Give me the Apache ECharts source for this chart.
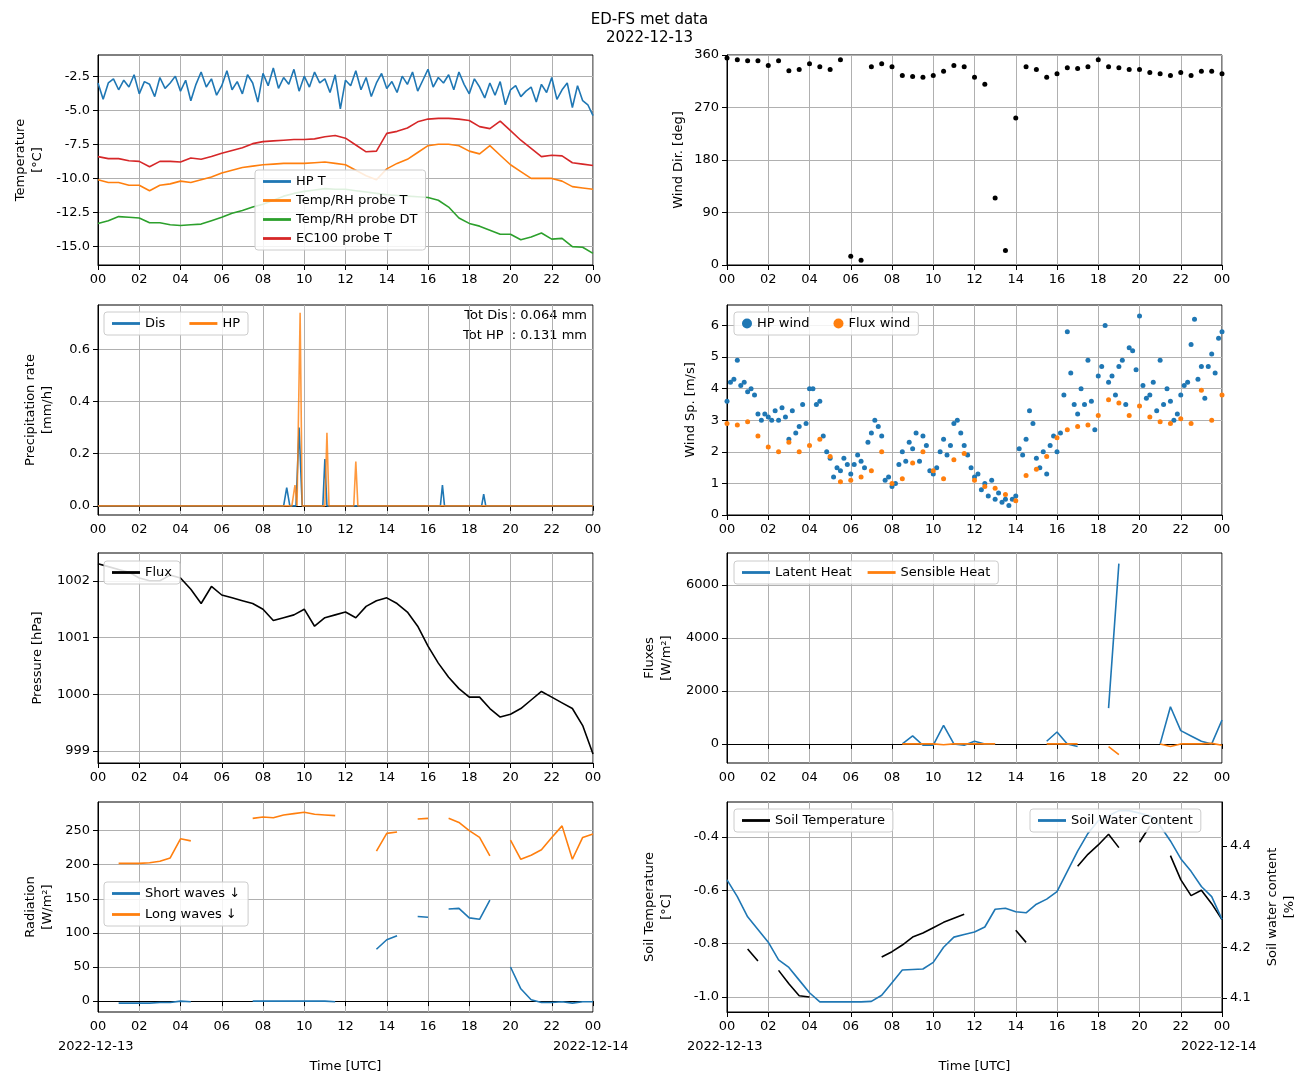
<!DOCTYPE html>
<html>
<head>
<meta charset="utf-8">
<script src="https://cdn.jsdelivr.net/npm/echarts@6/dist/echarts.min.js"></script>
<style>html,body{margin:0;padding:0;background:#fff}#chart{width:1299px;height:1082px}</style>
</head>
<body>
<div id="chart"></div>
<script>
// half-hour time stamps 0..24 h
const halfHours = [0,0.5,1,1.5,2,2.5,3,3.5,4,4.5,5,5.5,6,6.5,7,7.5,8,8.5,9,9.5,10,10.5,11,11.5,12,12.5,13,13.5,14,14.5,15,15.5,16,16.5,17,17.5,18,18.5,19,19.5,20,20.5,21,21.5,22,22.5,23,23.5,24];

// HP temperature every 15 min
const hpT = [-3.0,-4.2,-3.0,-2.7,-3.5,-2.8,-3.3,-2.4,
-3.8,-2.9,-3.1,-4.0,-2.6,-3.4,-3.0,-2.5,
-3.6,-2.8,-4.3,-3.1,-2.2,-3.3,-2.7,-3.9,
-3.2,-2.1,-3.5,-2.9,-3.8,-2.4,-3.0,-4.4,
-2.3,-3.2,-1.9,-3.4,-2.6,-3.1,-2.0,-3.6,
-2.5,-3.3,-2.2,-3.0,-2.7,-3.7,-2.4,-4.9,
-2.8,-3.2,-2.1,-3.5,-2.6,-4.0,-3.0,-2.3,
-3.4,-2.9,-3.7,-2.5,-3.1,-2.2,-3.6,-2.8,
-2.0,-3.3,-2.6,-3.0,-2.4,-3.5,-2.2,-3.1,
-3.8,-2.7,-3.3,-4.1,-3.0,-3.9,-2.9,-4.6,
-3.5,-3.2,-4.0,-3.6,-3.3,-4.4,-3.1,-3.7,
-2.6,-4.2,-3.5,-3.0,-4.8,-3.2,-4.3,-4.6,
-5.4];
const probeT = [-10.1,-10.3,-10.3,-10.5,-10.5,-10.9,-10.5,-10.4,-10.2,-10.3,-10.1,-9.9,-9.6,-9.4,-9.2,-9.1,-9.0,-8.95,-8.9,-8.9,-8.9,-8.85,-8.8,-8.9,-9.0,-9.4,-9.8,-10.1,-9.3,-8.9,-8.6,-8.1,-7.6,-7.5,-7.5,-7.6,-8.0,-8.2,-7.6,-8.3,-9.0,-9.5,-10.0,-10.0,-10.0,-10.2,-10.6,-10.7,-10.8];
const probeDT = [-13.3,-13.1,-12.8,-12.85,-12.9,-13.25,-13.25,-13.4,-13.45,-13.4,-13.35,-13.1,-12.85,-12.55,-12.35,-12.1,-11.9,-11.6,-11.3,-11.1,-10.95,-10.85,-10.75,-10.8,-10.8,-10.9,-11.0,-11.1,-11.2,-11.25,-11.3,-11.35,-11.4,-11.6,-12.1,-12.9,-13.3,-13.5,-13.8,-14.1,-14.1,-14.5,-14.3,-14.0,-14.45,-14.4,-15.0,-15.05,-15.5];
const ec100T = [-8.4,-8.55,-8.55,-8.7,-8.75,-9.15,-8.75,-8.75,-8.8,-8.5,-8.6,-8.4,-8.15,-7.95,-7.75,-7.45,-7.3,-7.25,-7.2,-7.15,-7.15,-7.1,-6.95,-6.85,-7.05,-7.55,-8.05,-8.0,-6.7,-6.55,-6.3,-5.85,-5.65,-5.6,-5.6,-5.65,-5.75,-6.2,-6.35,-5.8,-6.5,-7.2,-7.8,-8.4,-8.3,-8.35,-8.85,-8.95,-9.05];

const windDir = [355,352,350,350,342,350,333,335,345,340,335,352,15,8,340,345,340,325,323,322,325,332,342,340,322,310,115,25,252,340,335,322,328,338,337,340,352,340,338,335,335,330,328,325,330,325,332,332,328];

const disX = [0,9.0,9.15,9.3,9.6,9.75,9.9,10.9,11.0,11.1,16.6,16.7,16.8,18.6,18.7,18.8,24];
const disY = [0,0,0.07,0,0,0.3,0,0,0.18,0,0,0.08,0,0,0.045,0,0];
const hpPX = [0,9.4,9.55,9.65,9.7,9.8,9.9,11.0,11.1,11.2,12.4,12.5,12.6,24];
const hpPY = [0,0,0.08,0,0,0.74,0,0,0.28,0,0,0.17,0,0];

// HP wind every 10 min
const hpWind = [3.6,4.2,4.3,4.9,4.1,4.2,3.9,
4.0,3.8,3.2,3.0,3.2,3.1,
3.0,3.3,3.0,3.4,3.1,2.4,
3.3,2.6,2.8,3.5,2.9,4.0,
4.0,3.5,3.6,2.5,2.0,1.8,
1.2,1.5,1.4,1.8,1.6,1.3,
1.6,1.9,1.7,1.5,2.3,2.6,
3.0,2.8,2.5,1.1,1.2,0.9,
1.0,1.6,2.0,1.7,2.3,2.1,
2.6,1.7,2.5,2.2,1.4,1.3,
1.5,2.0,2.4,1.9,2.2,2.9,
3.0,2.6,2.2,1.9,1.5,1.2,
1.3,0.8,1.0,0.6,1.1,0.5,
0.7,0.4,0.5,0.3,0.5,0.6,
2.1,1.9,2.4,3.3,2.9,1.8,
1.5,2.0,1.3,2.2,2.5,2.0,
2.6,3.8,5.8,4.5,3.5,3.2,
4.0,3.5,4.9,3.6,2.7,4.4,
4.7,6.0,4.2,4.4,3.8,4.7,
4.9,3.5,5.3,5.2,4.6,6.3,
4.1,3.7,3.8,4.2,3.3,4.9,
3.5,4.0,3.6,3.0,3.2,3.8,
4.1,4.2,5.4,6.2,4.3,4.7,
3.7,4.7,5.1,4.5,5.6,5.8];
const fluxWind = [2.9,2.85,2.95,2.5,2.15,2.0,2.3,2.0,2.2,2.4,1.85,1.05,1.1,1.2,1.4,2.0,1.0,1.15,1.65,2.0,1.4,1.15,1.75,1.95,1.1,0.9,0.85,0.65,0.45,1.25,1.45,1.85,2.45,2.7,2.8,2.85,3.15,3.65,3.55,3.15,3.45,3.1,2.95,2.9,3.05,2.9,3.95,3.0,3.8];

const pressure = [1002.3,1002.25,1002.2,1002.15,1002.05,1002.0,1002.0,1002.1,1002.05,1001.85,1001.6,1001.9,1001.75,1001.7,1001.65,1001.6,1001.5,1001.3,1001.35,1001.4,1001.5,1001.2,1001.35,1001.4,1001.45,1001.35,1001.55,1001.65,1001.7,1001.6,1001.45,1001.2,1000.85,1000.55,1000.3,1000.1,999.95,999.95,999.75,999.6,999.65,999.75,999.9,1000.05,999.95,999.85,999.75,999.45,998.95];

const latent = [null,null,null,null,null,null,null,null,null,null,null,null,null,null,null,null,null,0,300,-50,-50,700,0,-50,100,0,0,null,null,null,null,100,450,0,-100,null,null,1350,6800,null,null,null,0,1400,500,300,100,0,900];
const sensible = [null,null,null,null,null,null,null,null,null,null,null,null,null,null,null,null,null,0,0,0,0,-30,0,0,0,0,0,null,null,null,null,0,0,0,0,null,null,-100,-400,null,null,null,0,-100,0,0,0,20,-50];

const shortW = [null,null,-3,-3,-3,-3,-2,-2,0,-1,null,null,null,null,null,0,0,0,0,0,0,0,0,-1,null,null,null,76,90,96,null,124,123,null,135,136,122,120,148,null,50,18,2,-2,-2,-1,-3,-1,-1];
const longW = [null,null,202,202,202,203,205,210,238,235,null,null,null,null,null,268,270,269,273,275,277,274,273,272,null,null,null,220,246,248,null,267,268,null,268,262,250,240,213,null,236,208,214,222,240,257,208,240,245];

const soilT = [null,null,-0.82,-0.865,null,-0.9,-0.95,-0.995,-1.0,null,null,null,null,null,null,-0.85,-0.83,-0.805,-0.775,-0.76,-0.74,-0.72,-0.705,-0.69,null,null,null,null,-0.75,-0.795,null,null,null,null,-0.51,-0.465,-0.43,-0.39,-0.44,null,-0.42,-0.36,null,-0.47,-0.56,-0.62,-0.6,-0.65,-0.71];
const soilW = [4.333,4.30,4.26,4.235,4.21,4.175,4.16,4.135,4.11,4.092,4.092,4.092,4.092,4.092,4.093,4.105,4.13,4.155,4.156,4.157,4.17,4.20,4.22,4.225,4.23,4.24,4.275,4.277,4.27,4.268,4.285,4.295,4.31,4.35,4.39,4.425,4.45,4.46,4.47,4.47,4.465,4.46,4.44,4.41,4.375,4.35,4.32,4.30,4.255];

const pairs = (xs, ys) => ys.map((y, i) => [xs[i], y]);
const tenMin = hpWind.map((v, i) => i / 6);
const quarter = hpT.map((v, i) => i / 4);

const chart = echarts.init(document.getElementById('chart'));
const F = 'DejaVu Sans';
const lefts = [98, 727], tops = [55, 305, 553, 802];
const grids = [];
for (let r = 0; r < 4; r++) for (let c = 0; c < 2; c++)
  grids.push({left: lefts[c], top: tops[r], width: 495, height: 210, show: true, borderColor: '#000', borderWidth: 1, backgroundColor: 'transparent'});

const xAxes = grids.map((g, i) => ({
  type: 'value', gridIndex: i, min: 0, max: 24, interval: 2,
  name: i >= 6 ? 'Time [UTC]' : '', nameLocation: 'middle', nameGap: 48,
  nameTextStyle: {fontFamily: F, fontSize: 13, color: '#000'},
  axisLine: {lineStyle: {color: '#000'}}, axisTick: {lineStyle: {color: '#000'}},
  axisLabel: {fontFamily: F, fontSize: 13, color: '#000', formatter: v => String(v % 24).padStart(2, '0')},
  splitLine: {show: true, lineStyle: {color: '#b0b0b0'}}
}));

function yAx(grid, name, min, max, ticks, fmt, extra) {
  return Object.assign({
    type: 'value', gridIndex: grid, min: min, max: max, name: name, nameLocation: 'middle', nameGap: 50,
    nameTextStyle: {fontFamily: F, fontSize: 13, color: '#000', lineHeight: 17},
    axisLine: {show: true, lineStyle: {color: '#000'}},
    axisTick: {show: true, customValues: ticks, lineStyle: {color: '#000'}},
    axisLabel: {fontFamily: F, fontSize: 13, color: '#000', customValues: ticks, formatter: fmt || (v => String(v))},
    splitLine: {show: true, lineStyle: {color: '#b0b0b0'}}
  }, extra || {});
}
const yAxes = [
  yAx(0, 'Temperature\n[°C]', -16.35, -0.95, [-15, -12.5, -10, -7.5, -5, -2.5], v => v.toFixed(1), {nameGap: 52}),
  yAx(1, 'Wind Dir. [deg]', 0, 360, [0, 90, 180, 270, 360], null, {nameGap: 40}),
  yAx(2, 'Precipitation rate\n[mm/h]', -0.035, 0.77, [0, 0.2, 0.4, 0.6], v => v.toFixed(1), {nameGap: 42}),
  yAx(3, 'Wind Sp. [m/s]', 0, 6.65, [0, 1, 2, 3, 4, 5, 6], null, {nameGap: 28}),
  yAx(4, 'Pressure [hPa]', 998.79, 1002.49, [999, 1000, 1001, 1002], null, {nameGap: 52}),
  yAx(5, 'Fluxes\n[W/m²]', -720, 7200, [0, 2000, 4000, 6000], null, {nameGap: 52}),
  yAx(6, 'Radiation\n[W/m²]', -16, 292, [0, 50, 100, 150, 200, 250], null, {nameGap: 42}),
  yAx(7, 'Soil Temperature\n[°C]', -1.056, -0.269, [-1.0, -0.8, -0.6, -0.4], v => v.toFixed(1), {nameGap: 52}),
  yAx(7, 'Soil water content\n[%]', 4.072, 4.487, [4.1, 4.2, 4.3, 4.4], v => v.toFixed(1), {position: 'right', nameGap: 42, splitLine: {show: false}})
];

const C1 = '#1f77b4', C2 = '#ff7f0e', C3 = '#2ca02c', C4 = '#d62728';
const line = (name, xi, yi, data, color, extra) => Object.assign({
  name: name, type: 'line', xAxisIndex: xi, yAxisIndex: yi, data: data, showSymbol: false,
  symbol: 'none', lineStyle: {color: color, width: 1.6}, itemStyle: {color: color}, connectNulls: false, animation: false
}, extra || {});
const dots = (name, xi, yi, data, color) => ({
  name: name, type: 'scatter', xAxisIndex: xi, yAxisIndex: yi, data: data, symbolSize: 5,
  itemStyle: {color: color, opacity: 1}, animation: false
});

const series = [
  line('HP T', 0, 0, pairs(quarter, hpT), C1),
  line('Temp/RH probe T', 0, 0, pairs(halfHours, probeT), C2),
  line('Temp/RH probe DT', 0, 0, pairs(halfHours, probeDT), C3),
  line('EC100 probe T', 0, 0, pairs(halfHours, ec100T), C4),
  dots('Wind Dir', 1, 1, pairs(halfHours, windDir), '#000'),
  line('Dis', 2, 2, pairs(disX, disY), C1),
  line('HP', 2, 2, pairs(hpPX, hpPY), C2, {lineStyle: {color: C2, width: 1.6, opacity: 0.8}}),
  dots('HP wind', 3, 3, pairs(tenMin, hpWind), C1),
  dots('Flux wind', 3, 3, pairs(halfHours, fluxWind), C2),
  line('Flux', 4, 4, pairs(halfHours, pressure), '#000'),
  line('Latent Heat', 5, 5, pairs(halfHours, latent), C1),
  line('Sensible Heat', 5, 5, pairs(halfHours, sensible), C2),
  line('Short waves ↓', 6, 6, pairs(halfHours, shortW), C1),
  line('Long waves ↓', 6, 6, pairs(halfHours, longW), C2),
  line('Soil Temperature', 7, 7, pairs(halfHours, soilT), '#000'),
  line('Soil Water Content', 7, 8, pairs(halfHours, soilW), C1)
];

const leg = (names, left, top, orient, gap) => ({
  data: names.map(n => ({name: n, icon: n.indexOf('wind') >= 0 ? 'circle' : 'path://M0,0H30V3H0Z'})),
  left: left, top: top, orient: orient || 'horizontal', itemWidth: 28, itemHeight: 10, itemGap: gap || 8,
  textStyle: {fontFamily: F, fontSize: 13, color: '#000'}, backgroundColor: 'rgba(255,255,255,0.85)',
  borderColor: '#ccc', borderWidth: 1, borderRadius: 3, padding: [5, 8]
});
const legends = [
  leg(['HP T', 'Temp/RH probe T', 'Temp/RH probe DT', 'EC100 probe T'], 255, 170, 'vertical', 6),
  leg(['Dis', 'HP'], 104, 312, 'horizontal', 24),
  leg(['HP wind', 'Flux wind'], 734, 312, 'horizontal', 24),
  leg(['Flux'], 104, 561),
  leg(['Latent Heat', 'Sensible Heat'], 734, 561, 'horizontal', 16),
  leg(['Short waves ↓', 'Long waves ↓'], 104, 882, 'vertical'),
  leg(['Soil Temperature'], 734, 809),
  leg(['Soil Water Content'], 1030, 809)
];
legends[2].itemWidth = 10;

const txt = (x, y, s) => ({type: 'text', left: x, top: y, style: {text: s, fontFamily: F, fontSize: 13, fill: '#000'}});
chart.setOption({
  animation: false,
  title: {text: 'ED-FS met data\n2022-12-13', left: 'center', top: 6,
    textStyle: {fontFamily: F, fontSize: 15, fontWeight: 'normal', color: '#000', lineHeight: 18}},
  grid: grids, xAxis: xAxes, yAxis: yAxes, series: series, legend: legends,
  graphic: [
    {type: 'text', right: 712, top: 306, style: {text: 'Tot Dis : 0.064 mm\nTot HP  : 0.131 mm', fontFamily: F, fontSize: 13, lineHeight: 20, fill: '#000', textAlign: 'right'}},
    txt(58, 1040, '2022-12-13'), txt(553, 1040, '2022-12-14'),
    txt(687, 1040, '2022-12-13'), txt(1181, 1040, '2022-12-14')
  ]
});
</script>
</body>
</html>
